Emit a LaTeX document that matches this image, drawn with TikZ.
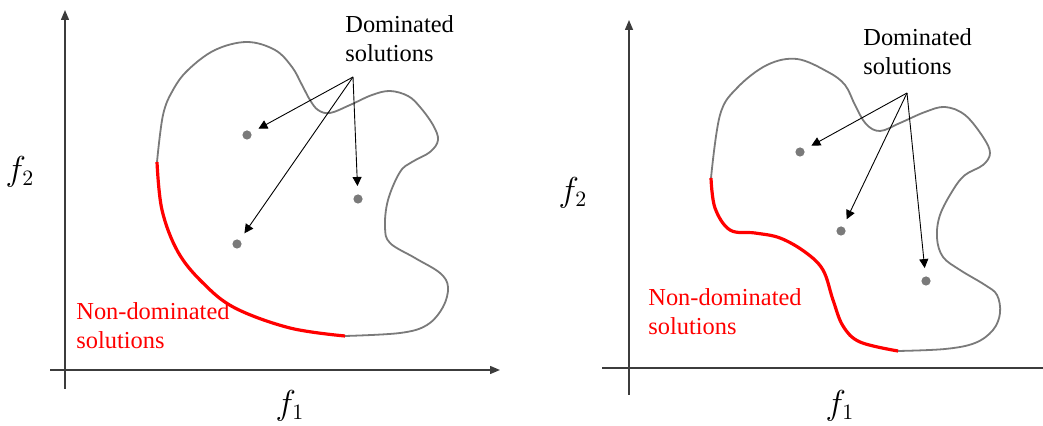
\documentclass[tikz,border=0pt]{standalone}
\usepackage{amsmath}
\usepackage{fontspec}
\setmainfont{Liberation Serif}
\newfontfamily\labelfont{Liberation Serif}
\usetikzlibrary{arrows.meta, positioning}
\definecolor{regionGray}{HTML}{7A7A7A}
\definecolor{axisGray}{HTML}{3C3C3C}
\definecolor{frontRed}{HTML}{FF0000}

\begin{document}
\begin{tikzpicture}[x=0.5pt, y=-0.5pt,
    axis/.style={axisGray, line width=0.7pt},
    axisarrow/.style={axis, -{Triangle[length=5pt, width=4pt]}},
    region/.style={regionGray, line width=0.9pt},
    front/.style={frontRed, line width=1.6pt},
    sol/.style={circle, fill=regionGray, inner sep=0pt, minimum size=4.6pt},
    pointer/.style={black, line width=0.45pt, -{Triangle[length=4.5pt, width=4.5pt]}, shorten >=4pt},
    lbl/.style={align=left, anchor=north west, inner sep=0pt, font=\labelfont\fontsize{12.2}{14.5}\selectfont},
    axlbl/.style={inner sep=0pt, font=\fontsize{16}{18}\selectfont}]

    \useasboundingbox (0,0) rectangle (1043,426);

    % ---------- left panel ----------
    % Draw axes
    \draw[axisarrow] (65,389) -- (65,10);
    \draw[axisarrow] (50,370) -- (500,370);
    \node[axlbl] (fTwoL) at (20,172) {$f_2$};
    \node[axlbl] (fOneL) at (290,406) {$f_1$};

    % Feasible region
    \draw[region] plot[smooth, tension=0.6] coordinates {
        (345,336) (400,333) (427,325) (443,307) (448,287) (440,273) (415,258)
        (390,243) (385,227) (388,200) (400,172) (412,162) (430,152) (438,140)
        (433,125) (420,107) (408,96) (390,91) (372,95) (350,105) (330,113)
        (318,110) (310,100) (302,85) (292,67) (275,50) (247,42) (215,50)
        (188,70) (173,90) (163,115) (157,162)};
    % Pareto front
    \draw[front] plot[smooth, tension=0.6] coordinates {
        (157,162) (162,210) (178,252) (203,283) (235,308) (290,328) (345,336)};

    % Dominated points
    \node[sol] (ptA) at (247,135) {};
    \node[sol] (ptB) at (358,199) {};
    \node[sol] (ptC) at (237,244) {};

    % Labels and pointers
    \node[lbl] (domL) at (345,15) {Dominated\\solutions};
    \coordinate (srcL) at (353,77);
    \draw[pointer] (srcL) -- (ptA);
    \draw[pointer] (srcL) -- (ptB);
    \draw[pointer] (srcL) -- (ptC);
    \node[lbl, text=frontRed] (nondomL) at (76,302) {Non-dominated\\solutions};

    % ---------- right panel ----------
    % Draw axes
    \draw[axisarrow] (629,395) -- (629,20);
    \draw[axis] (602,368) -- (1043,368);
    \node[axlbl] (fTwoR) at (573,193) {$f_2$};
    \node[axlbl] (fOneR) at (840,406) {$f_1$};

    % Feasible region
    \draw[region] plot[smooth, tension=0.6] coordinates {
        (898,351) (945,349) (975,343) (993,330) (1000,313) (997,295) (985,285)
        (960,270) (943,257) (937,238) (940,215) (953,190) (965,175) (983,165)
        (990,153) (983,137) (965,115) (945,107) (925,112) (900,123) (880,131)
        (866,124) (855,105) (845,85) (828,72) (797,59) (767,65) (737,88)
        (720,115) (711,178)};
    % Pareto front
    \draw[front] plot[smooth, tension=0.6] coordinates {
        (711,178) (715,208) (730,230) (755,233) (780,238) (805,252) (823,270)
        (833,300) (843,326) (860,342) (898,351)};

    % Dominated points
    \node[sol] (ptD) at (800,152) {};
    \node[sol] (ptE) at (841,231) {};
    \node[sol] (ptF) at (926,281) {};

    % Labels and pointers
    \node[lbl] (domR) at (863,28) {Dominated\\solutions};
    \coordinate (srcR) at (907,93);
    \draw[pointer] (srcR) -- (ptD);
    \draw[pointer] (srcR) -- (ptE);
    \draw[pointer] (srcR) -- (ptF);
    \node[lbl, text=frontRed] (nondomR) at (648,288) {Non-dominated\\solutions};
\end{tikzpicture}
\end{document}
